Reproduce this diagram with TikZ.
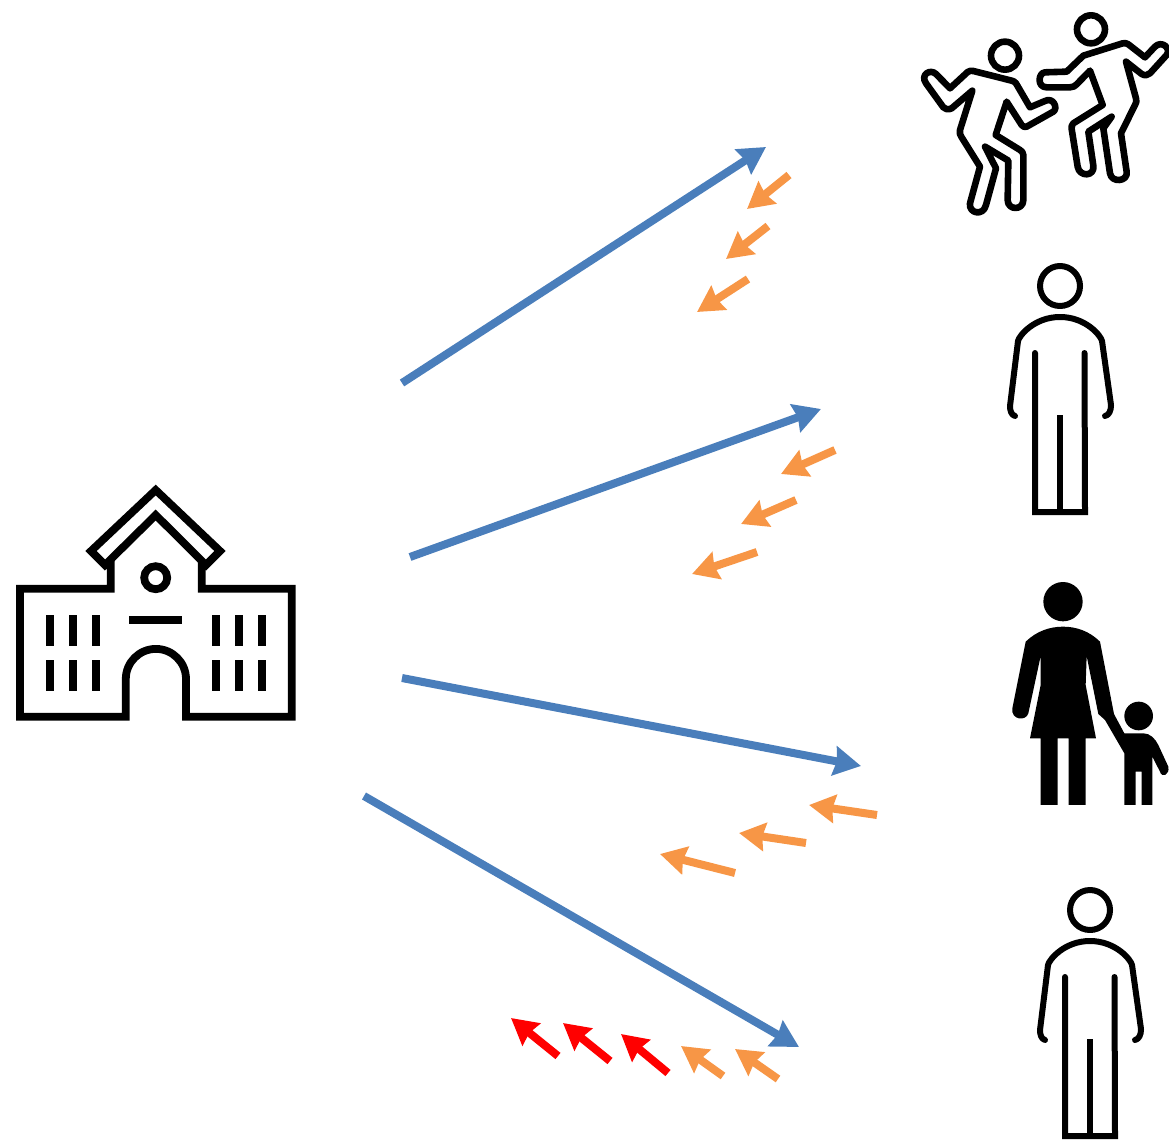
\documentclass[tikz,border=0pt]{standalone}
\usetikzlibrary{arrows.meta}
\definecolor{bluearrowc}{RGB}{74,126,187}
\definecolor{orangearrowc}{RGB}{247,150,70}
\tikzset{
  x=1pt,y=-1pt,
  bluearrow/.style={draw=bluearrowc,line width=8pt,-{Stealth[length=27pt,width=29pt,inset=2.5pt]}},
  orangearrow/.style={draw=orangearrowc,line width=8pt,-{Stealth[length=26pt,width=28pt,inset=2.5pt]}},
  redarrow/.style={draw=red,line width=8pt,-{Stealth[length=26pt,width=28pt,inset=2.5pt]}},
  bld/.style={draw=black,line width=7.8pt,miter limit=10},
  win/.style={draw=black,line width=8pt},
  fighter/.style={draw=black,line width=6.6pt,line join=round,line cap=round},
  stander/.style={draw=black,line width=6pt,line join=round,line cap=round},
  standerleg/.style={draw=black,line width=6pt,line join=miter},
  standing/.pic={
    \draw[stander] (0,0) circle[radius=20];
    \draw[stander] (-45,130) .. controls (-49,129) and (-50,124) .. (-50,120) -- (-42,55) .. controls (-41,50) and (-26,31) .. (0,31) .. controls (26,31) and (41,50) .. (42,55) -- (51,119) .. controls (51,125) and (49,129) .. (45,130);
    \draw[standerleg,line cap=round] (-25,67) -- (-25,226) -- (25,226) -- (24.5,67);
    \draw[standerleg] (0,129) -- (0,226);
  }
}
\begin{document}
\begin{tikzpicture}
\useasboundingbox (0,0) rectangle (1169,1140);
% school
\draw[bld] (110.8,560) -- (110.8,588.7) -- (20,588.7) -- (20,716.7) -- (125.8,716.7) -- (125.8,679) arc[start angle=180,end angle=360,radius=30.1] -- (186,716.7) -- (291.7,716.7) -- (291.7,588.7) -- (201.7,588.7) -- (201.7,560);
\draw[bld] (155.7,490) -- (91,551) -- (105,565) -- (155.7,515) -- (206,565) -- (220,551) -- cycle;
\draw[bld] (155.7,577.7) circle[radius=11.5];
\draw[win] (129,620) -- (182,620);
\foreach \wx in {50,73,96,216,239,262}{
  \draw[win] (\wx,615) -- (\wx,645.7);
  \draw[win] (\wx,660) -- (\wx,690.7);
}
% fighters
\begin{scope}[shift={(910,0)},x=0.3333pt,y=-0.3333pt]
\draw[fighter] (285,167) circle[radius=42];
\draw[fighter] (187,272) -- (150,390) .. controls (148,400) and (150,405) .. (155,412) -- (210,500) -- (180,610) .. controls (175,640) and (220,650) .. (228,615) -- (258,505) -- (225,440) -- (295,482) -- (293,600) .. controls (293,632) and (340,632) .. (340,600) -- (340,465) .. controls (340,458) and (335,453) .. (330,450) -- (257,405) -- (290,305) -- (335,375) .. controls (340,382) and (345,382) .. (350,380) -- (430,335) .. controls (445,325) and (430,290) .. (405,303) -- (360,322) -- (318,250) .. controls (314,245) and (310,243) .. (305,242) -- (190,213) .. controls (183,212) and (178,212) .. (173,216) -- (120,265) -- (78,222) .. controls (60,205) and (30,225) .. (48,250) -- (100,322) .. controls (105,328) and (115,330) .. (125,325) -- cycle;
\draw[fighter] (543,88) circle[radius=42];
\draw[fighter] (540,212) -- (578,315) -- (490,370) .. controls (485,375) and (484,380) .. (485,387) -- (503,500) .. controls (508,532) and (555,530) .. (550,497) -- (535,395) -- (605,350) -- (580,385) -- (600,520) .. controls (605,550) and (655,545) .. (650,515) -- (633,400) -- (675,315) .. controls (680,308) and (680,303) .. (678,295) -- (648,185) -- (695,222) .. controls (705,228) and (712,226) .. (720,220) -- (770,165) .. controls (785,145) and (755,120) .. (735,140) -- (705,172) -- (655,133) .. controls (650,130) and (645,128) .. (638,130) -- (520,167) -- (470,215) -- (405,217) .. controls (385,218) and (380,262) .. (410,262) -- (480,262) .. controls (490,262) and (495,258) .. (500,253) -- cycle;
\end{scope}
% standing adults
\pic at (1060,286) {standing};
\pic at (1090,910) {standing};
% mother and child
\begin{scope}[shift={(990,570)},x=0.3333pt,y=-0.3333pt]
\fill[black] (219,95) circle[radius=59];
\fill[black] (446,438) circle[radius=43];
\fill[black] (107,215) .. controls (140,183) and (180,170) .. (219,170) .. controls (258,170) and (298,183) .. (330,215) -- (372,432) -- (403,490) -- (460,490) .. controls (480,490) and (495,505) .. (505,525) -- (535,590) .. controls (540,615) and (515,625) .. (510,605) -- (487,560) -- (487,705) -- (455,705) -- (455,605) -- (437,605) -- (437,705) -- (403,705) -- (403,550) -- (345,450) -- (325,432) -- (290,258) -- (287,345) -- (318,505) -- (287,505) -- (287,705) -- (236,705) -- (236,505) -- (203,505) -- (203,705) -- (152,705) -- (152,505) -- (120,505) -- (152,345) -- (152,258) -- (115,430) .. controls (108,455) and (62,450) .. (67,415) -- cycle;
\end{scope}
% blue arrows
\coordinate (b1s) at (402,383); \coordinate (b1e) at (766,147);
\coordinate (b2s) at (410,557); \coordinate (b2e) at (821,409);
\coordinate (b3s) at (402,678); \coordinate (b3e) at (861,766);
\coordinate (b4s) at (364,796); \coordinate (b4e) at (799,1047);
\draw[bluearrow] (b1s) -- (b1e);
\draw[bluearrow] (b2s) -- (b2e);
\draw[bluearrow] (b3s) -- (b3e);
\draw[bluearrow] (b4s) -- (b4e);
% orange arrows
\coordinate (o1s) at (789,175); \coordinate (o1e) at (747,209);
\coordinate (o2s) at (768,226); \coordinate (o2e) at (726,259);
\coordinate (o3s) at (748,279); \coordinate (o3e) at (697,312);
\coordinate (o4s) at (835,450); \coordinate (o4e) at (781,474);
\coordinate (o5s) at (796,500); \coordinate (o5e) at (741,524);
\coordinate (o6s) at (757,552); \coordinate (o6e) at (692,574);
\coordinate (o7s) at (877,815); \coordinate (o7e) at (809,805);
\coordinate (o8s) at (806,843); \coordinate (o8e) at (739,833);
\coordinate (o9s) at (735,873); \coordinate (o9e) at (660,854);
\coordinate (o10s) at (723,1076); \coordinate (o10e) at (681,1046);
\coordinate (o11s) at (778,1079); \coordinate (o11e) at (735,1049);
\foreach \k in {1,...,11}{ \draw[orangearrow] (o\k s) -- (o\k e); }
% red arrows
\coordinate (r1s) at (558,1056); \coordinate (r1e) at (511,1018);
\coordinate (r2s) at (610,1061); \coordinate (r2e) at (563,1023);
\coordinate (r3s) at (668,1073); \coordinate (r3e) at (621,1034);
\foreach \k in {1,2,3}{ \draw[redarrow] (r\k s) -- (r\k e); }
\end{tikzpicture}
\end{document}
